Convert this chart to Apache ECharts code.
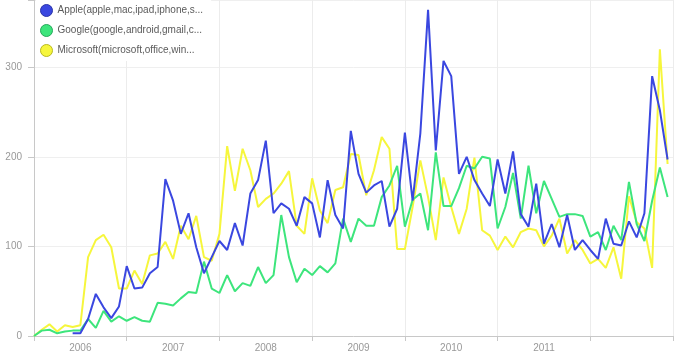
<!DOCTYPE html>
<html>
<head>
<meta charset="utf-8">
<script src="https://cdn.jsdelivr.net/npm/echarts@6/dist/echarts.min.js"></script>
<style>html,body{margin:0;padding:0;background:#fff}#c{width:680px;height:357px}</style>
</head>
<body>
<div id="c"></div>
<script>
// Monthly values, Jan 2006 .. Nov 2012 (index 0..82)
var startYear = 2006;
var yearLabels = ['2006', '2007', '2008', '2009', '2010', '2011'];
var seriesNames = ['Apple(apple,mac,ipad,iphone,s...', 'Google(google,android,gmail,c...', 'Microsoft(microsoft,office,win...'];
var apple = [null, null, null, null, null, 3, 3, 19, 47, 32, 20, 33,
  78, 53, 54, 70, 77, 175, 151, 114, 137, 99, 70, 88,
  106, 96, 126, 101, 159, 174, 218, 137, 148, 142, 123, 155,
  148, 110, 174, 135, 120, 229, 181, 160, 168, 173, 122, 142,
  227, 151, 226, 364, 207, 307, 290, 181, 200, 174, 159, 145,
  197, 159, 206, 136, 122, 170, 103, 125, 99, 135, 96, 107,
  96, 86, 131, 103, 101, 128, 110, 137, 290, 252, 197];
var google = [0, 6, 7, 3, 5, 6, 6, 19, 9, 28, 16, 22,
  17, 21, 17, 16, 37, 36, 34, 42, 49, 48, 83, 53,
  48, 68, 50, 59, 56, 77, 59, 68, 135, 88, 60, 75,
  68, 78, 71, 81, 131, 105, 131, 123, 123, 155, 168, 190,
  122, 152, 159, 118, 205, 145, 145, 165, 190, 187, 200, 198,
  120, 144, 182, 131, 190, 137, 173, 153, 133, 136, 136, 134,
  111, 116, 96, 123, 107, 172, 125, 106, 151, 188, 155];
var microsoft = [0, 7, 13, 5, 12, 10, 12, 88, 107, 113, 99, 53,
  53, 73, 58, 90, 92, 105, 86, 123, 108, 134, 88, 84,
  114, 212, 162, 209, 185, 144, 153, 159, 170, 184, 123, 114,
  176, 140, 126, 163, 166, 203, 202, 157, 185, 222, 209, 97,
  97, 144, 196, 155, 107, 177, 144, 114, 142, 199, 118, 112,
  96, 111, 99, 116, 120, 118, 100, 112, 131, 92, 107, 96,
  81, 86, 76, 99, 64, 156, 127, 120, 76, 320, 192];

var colors = ['#3a47e0', '#3de57c', '#f6f63c'];
var borders = ['#2a34a8', '#25a85a', '#b8b820'];

function toPairs(arr) {
  var out = [];
  for (var i = 0; i < arr.length; i++) {
    if (arr[i] !== null) out.push([i, arr[i]]);
  }
  return out;
}

var chart = echarts.init(document.getElementById('c'), null, {renderer: 'canvas'});
var font = 'Liberation Sans, Arial, sans-serif';
var allData = [apple, google, microsoft];

chart.setOption({
  animation: false,
  backgroundColor: '#ffffff',
  textStyle: {fontFamily: font},
  grid: {left: 34, right: 7, top: 0, bottom: 21, containLabel: false},
  legend: {
    orient: 'vertical',
    left: 36,
    top: -2,
    padding: [6, 8, 4, 4],
    itemGap: 7,
    itemWidth: 12,
    itemHeight: 12,
    icon: 'circle',
    backgroundColor: '#ffffff',
    textStyle: {fontSize: 10, color: '#5a5a5a', fontFamily: font},
    data: seriesNames.map(function (n, k) {
      return {name: n, itemStyle: {color: colors[k], borderColor: borders[k], borderWidth: 1}};
    })
  },
  xAxis: [{
    type: 'value',
    min: 0,
    max: 82.7,
    interval: 12,
    axisLine: {show: true, lineStyle: {color: '#c8c8c8'}},
    axisTick: {show: true, length: 5, lineStyle: {color: '#c8c8c8'}},
    axisLabel: {show: false},
    splitLine: {show: true, lineStyle: {color: '#ececec'}}
  }, {
    type: 'value',
    position: 'bottom',
    min: 0,
    max: 82.7,
    interval: 6,
    axisLine: {show: false},
    axisTick: {show: false},
    splitLine: {show: false},
    axisLabel: {
      show: true, fontSize: 10, color: '#999', margin: 7, fontFamily: font,
      formatter: function (v) {
        if (v % 12 === 6) {
          var k = (v - 6) / 12;
          return yearLabels[k] || '';
        }
        return '';
      }
    }
  }],
  yAxis: {
    type: 'value',
    min: 0,
    max: 375,
    interval: 100,
    axisLine: {show: true, lineStyle: {color: '#c8c8c8'}},
    axisTick: {show: true, length: 6, lineStyle: {color: '#c8c8c8'}},
    axisLabel: {
      fontSize: 10, color: '#999', margin: 12, fontFamily: font,
      formatter: function (v) { return v % 100 === 0 ? String(v) : ''; }
    },
    splitLine: {show: true, lineStyle: {color: '#efefef'}}
  },
  series: seriesNames.map(function (n, k) {
    return {
      name: n,
      type: 'line',
      xAxisIndex: 0,
      showSymbol: false,
      symbol: 'none',
      z: 3 - k,
      lineStyle: {width: 2, color: colors[k]},
      itemStyle: {color: colors[k]},
      data: toPairs(allData[k])
    };
  })
});
</script>
</body>
</html>
